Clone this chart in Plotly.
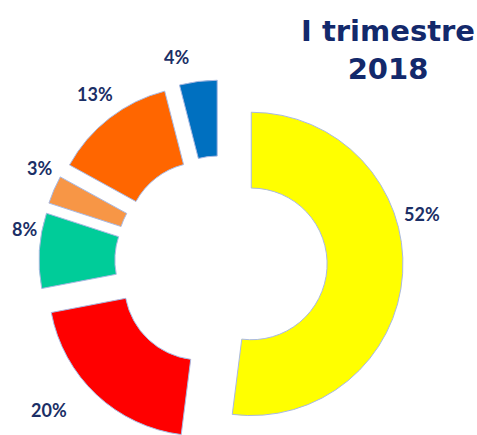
import math
import plotly.graph_objects as go

# ---- Data ----
categories = ["Cat. A", "Cat. B", "Cat. C", "Cat. D", "Cat. E", "Cat. F"]
values = [52, 20, 8, 3, 13, 4]
colors = ["#FFFF00", "#FF0000", "#00CC99", "#F79646", "#FF6600", "#0070C0"]
title_lines = ["I trimestre", "2018"]

# ---- Layout constants ----
W, H = 477, 450            # figure slightly taller than the window: bottom is cropped like the reference
CX, CY = 221, 262          # pie centre in pixels (from top-left)
HALF = 182                 # half of the pie box
PULL = 0.2
HOLE = 0.5
LABEL_DIST = 207           # px from pie centre to label centre
label_shift_deg = {0: -17, 1: 6, 2: 6, 3: 4, 4: 1, 5: -5}
label_extra_dist = {1: 20, 2: -8, 3: -3, 4: 3, 5: 3}

fig = go.Figure(go.Pie(
    labels=categories,
    values=values,
    sort=False,
    direction="clockwise",
    rotation=0,
    hole=HOLE,
    pull=[PULL] * len(values),
    marker=dict(colors=colors, line=dict(color="#A9B9E2", width=1)),
    textinfo="none",
    domain=dict(x=[(CX - 210) / W, (CX + 210) / W],
                y=[(H - CY - HALF) / H, (H - CY + HALF) / H]),
    showlegend=False,
    hoverinfo="label+percent",
))

# percentage labels outside each slice, near its mid-angle
total = sum(values)
cum = 0
for i, v in enumerate(values):
    mid = (cum + v / 2) / total * 360 + label_shift_deg.get(i, 0)
    cum += v
    d = LABEL_DIST + label_extra_dist.get(i, 0)
    px = CX + d * math.sin(math.radians(mid))
    py = CY - d * math.cos(math.radians(mid))
    fig.add_annotation(
        text="<b>%d%%</b>" % round(v / total * 100),
        x=px / W, y=1 - py / H, xref="paper", yref="paper",
        xanchor="center", yanchor="middle", showarrow=False,
        font=dict(family="Lato", size=18, color="#1B2F66"),
    )

fig.add_annotation(
    text="<b>" + "<br>".join(title_lines) + "</b>",
    x=388 / W, y=1 - 12 / H, xref="paper", yref="paper",
    xanchor="center", yanchor="top", showarrow=False,
    font=dict(family="DejaVu Sans", size=29, color="#13296B"),
    align="center",
)

fig.update_layout(
    width=W, height=H,
    margin=dict(l=0, r=0, t=0, b=0),
    paper_bgcolor="white", plot_bgcolor="white",
)

fig.write_html(
    "out.html",
    config={"displayModeBar": False},
    post_script="document.body.style.margin='0';document.body.style.overflow='hidden';",
)
